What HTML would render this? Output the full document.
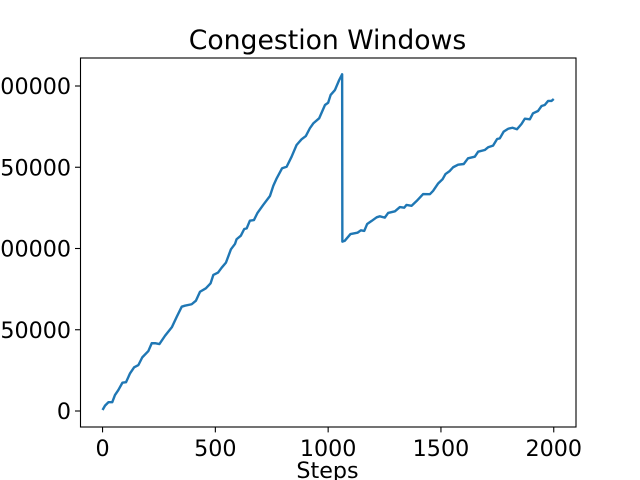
<!DOCTYPE html>
<html>
<head>
<meta charset="utf-8">
<title>Congestion Windows</title>
<style>
html,body{margin:0;padding:0;background:#fff;width:640px;height:480px;overflow:hidden}
svg{display:block}
text{font-family:"DejaVu Sans",sans-serif;fill:#000}
</style>
</head>
<body>
<svg id="chart" width="640" height="480" viewBox="0 0 640 480" xmlns="http://www.w3.org/2000/svg">
<rect x="0" y="0" width="640" height="480" fill="#fff"/>
<text x="327.5" y="49" font-size="26.67" text-anchor="middle">Congestion Windows</text>
<text x="327.5" y="478" font-size="22.22" text-anchor="middle">Steps</text>
<g id="series"></g>
<g id="xticks"></g>
<g id="yticks"></g>
<rect x="80.5" y="58" width="495.5" height="369" fill="none" stroke="#000" stroke-width="1.1"/>
</svg>
<script>
var steps = [0,11,26,43,55,70,88,104,122,140,159,176,203,218,233,252,277,307,329,351,365,395,414,432,458,479,491,512,528,547,569,587,594,613,628,639,653,671,686,712,742,757,772,796,816,838,860,882,901,919,934,960,986,1000,1011,1030,1049,1062,1063,1074,1099,1130,1145,1160,1173,1192,1215,1229,1251,1266,1296,1318,1337,1347,1370,1392,1421,1451,1465,1488,1507,1520,1539,1554,1576,1601,1620,1650,1665,1694,1709,1731,1749,1761,1778,1798,1817,1837,1857,1872,1894,1908,1930,1946,1960,1975,1990,2000];
var cwnd = [600,3300,5400,5400,9800,12900,17400,17700,23200,26900,28300,33000,36900,41700,41700,41200,46300,51500,58000,64200,64800,65700,67900,73400,75500,78600,83700,85200,88200,91300,99500,102800,105700,107900,112000,112400,117100,117500,121700,126800,132300,138600,143200,149400,150300,156500,163700,167200,169200,174000,177000,180100,188300,189700,194500,197500,203700,207200,104200,104800,108900,109700,111200,110800,115100,116900,119200,119800,119000,121900,122900,125500,125100,126800,126300,129200,133500,133400,135400,140100,142600,145800,147700,150000,151600,152000,155500,156500,159600,160600,162300,163300,167400,167800,171900,173700,174300,173400,176600,179900,179500,183200,184600,187700,188300,190800,190800,192000];
var xTickValues = [0,500,1000,1500,2000];
var yTickValues = [0,50000,100000,150000,200000];

var NS = 'http://www.w3.org/2000/svg';
function xScale(v){ return 102.55 + v * (553.75 - 102.55) / 2000; }
function yScale(v){ return 411 - v * (411 - 86) / 200000; }

var seriesLayer = document.getElementById('series');
var line = document.createElementNS(NS, 'polyline');


var pts = [];
for (var i = 0; i < steps.length; i++) {
  pts.push(xScale(steps[i]).toFixed(2) + ',' + yScale(cwnd[i]).toFixed(2));
}
line.setAttribute('points', pts.join(' '));
line.setAttribute('fill', 'none');
line.setAttribute('stroke', '#1f77b4');
line.setAttribute('stroke-width', '2.4');
line.setAttribute('stroke-linejoin', 'round');
seriesLayer.appendChild(line);

var xLayer = document.getElementById('xticks');
xTickValues.forEach(function(v){
  var x = xScale(v);
  var t = document.createElementNS(NS, 'line');
  
  
  t.setAttribute('x1', x);
  t.setAttribute('x2', x);
  t.setAttribute('y1', 427);
  t.setAttribute('y2', 432.4);
  t.setAttribute('stroke', '#000');
  t.setAttribute('stroke-width', '1.1');
  xLayer.appendChild(t);
  var l = document.createElementNS(NS, 'text');
  
  
  l.setAttribute('x', x);
  l.setAttribute('y', 456);
  l.setAttribute('font-size', '22.22');
  l.setAttribute('text-anchor', 'middle');
  l.textContent = String(v);
  xLayer.appendChild(l);
});

var yLayer = document.getElementById('yticks');
yTickValues.forEach(function(v){
  var y = yScale(v);
  var t = document.createElementNS(NS, 'line');
  
  
  t.setAttribute('x1', 75);
  t.setAttribute('x2', 80.5);
  t.setAttribute('y1', y);
  t.setAttribute('y2', y);
  t.setAttribute('stroke', '#000');
  t.setAttribute('stroke-width', '1.1');
  yLayer.appendChild(t);
  var l = document.createElementNS(NS, 'text');
  
  
  l.setAttribute('x', 71);
  l.setAttribute('y', y + 8.1);
  l.setAttribute('font-size', '22.22');
  l.setAttribute('text-anchor', 'end');
  l.textContent = String(v);
  yLayer.appendChild(l);
});
</script>
</body>
</html>
